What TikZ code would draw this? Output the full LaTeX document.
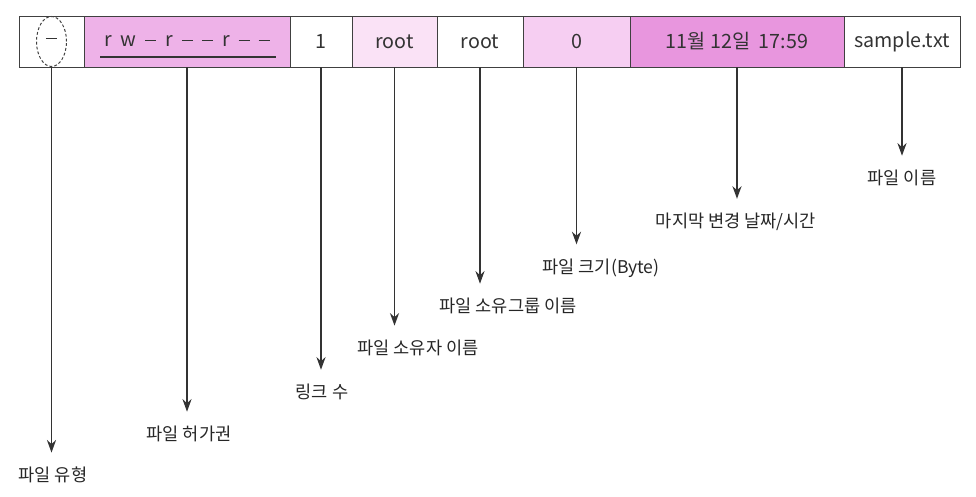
\documentclass[tikz,border=0pt]{standalone}
\usepackage{fontspec}
\setmainfont{Noto Sans CJK KR}
\usetikzlibrary{arrows.meta}
\definecolor{permpink}{RGB}{238,178,232}
\definecolor{ownerpink}{RGB}{250,226,246}
\definecolor{sizepink}{RGB}{246,206,242}
\definecolor{datepink}{RGB}{232,150,222}
\newcommand\pgap{\hspace{6.3pt}}
\newcommand\pdash{\rule[4.2pt]{8pt}{0.9pt}}
\begin{document}
\begin{tikzpicture}[x=0.025cm,y=-0.025cm,
    cell/.style={draw=black!75, line width=0.6pt, minimum height=1.275cm, inner sep=0pt,
      font=\fontsize{14}{16}\selectfont, text=black!80},
    lbl/.style={font=\fontsize{12.5}{14}\selectfont, text=black!85, inner sep=2pt},
    pointer/.style={-{Stealth[length=9pt,width=6.5pt]}, line width=0.9pt, draw=black!80, shorten >=8pt}]
  \useasboundingbox (0,0) rectangle (976,497);

  % 칸
  \node[cell, minimum width=1.625cm] (type) at (51.5,41.5) {\pdash};
  \node[cell, minimum width=5.15cm, fill=permpink] (perm) at (187,41.5)
    {r\pgap w\pgap\pdash\pgap r\pgap\pdash\pgap\pdash\pgap r\pgap\pdash\pgap\pdash};
  \node[cell, minimum width=1.55cm] (links) at (321,41.5) {1};
  \node[cell, minimum width=2.125cm, fill=ownerpink] (owner) at (394.5,41.5) {root};
  \node[cell, minimum width=2.15cm] (group) at (480,41.5) {root};
  \node[cell, minimum width=2.675cm, fill=sizepink] (size) at (576.5,41.5) {0};
  \node[cell, minimum width=5.35cm, fill=datepink] (date) at (737,41.5) {11월 12일\ \ 17:59};
  \node[cell, minimum width=2.9cm] (name) at (902,41.5) {sample.txt};

  % 표시
  \draw[dashed, dash pattern=on 2pt off 1.5pt, black!75, line width=0.7pt]
    (type.center) ellipse [x radius=0.375cm, y radius=0.625cm];
  \draw[line width=1.5pt, black!80] (100,57) -- (276,57);

  % 설명
  \node[lbl] (ltype) at (53,475) {파일 유형};
  \node[lbl] (lperm) at (189,434) {파일 허가권};
  \node[lbl] (llinks) at (322,392) {링크 수};
  \node[lbl] (lowner) at (418,348) {파일 소유자 이름};
  \node[lbl] (lgroup) at (508,306) {파일 소유그룹 이름};
  \node[lbl] (lsize) at (601,268) {파일 크기(Byte)};
  \node[lbl] (ldate) at (736,222) {마지막 변경 날짜/시간};
  \node[lbl] (lname) at (902,178) {파일 이름};

  % 화살표
  \foreach \c/\l in {type/ltype, perm/lperm, links/llinks, owner/lowner,
                     group/lgroup, size/lsize, date/ldate, name/lname}
    \draw[pointer] (\c.south) -- (\c.south |- \l.north);
\end{tikzpicture}
\end{document}
